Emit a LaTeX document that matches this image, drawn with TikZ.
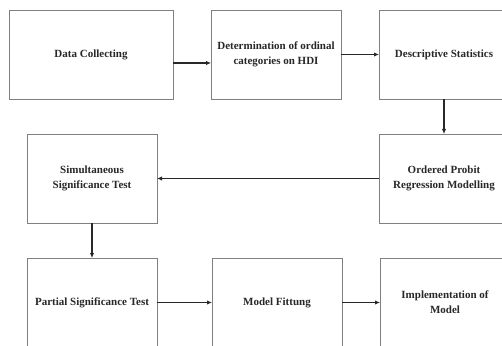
\documentclass[tikz,border=0pt]{standalone}
\usepackage{fontspec}
\setmainfont{Liberation Serif}
\usepackage{xcolor}
\usepackage{tikz}
\usetikzlibrary{arrows.meta, positioning}
\definecolor{edgegray}{RGB}{128,128,128}
\definecolor{inkgray}{RGB}{40,40,40}

\begin{document}
\begin{tikzpicture}[
    x=1pt, y=1pt,
    node distance=35pt and 38pt,
    box/.style={rectangle, draw=edgegray, line width=0.9pt, fill=white, minimum height=89pt, minimum width=130pt, align=center, text=inkgray, font=\fontsize{11}{15}\selectfont\bfseries, inner sep=0pt, outer sep=0pt},
    arr/.style={-{Latex[length=5pt,width=4.5pt]}, line width=1.3pt, inkgray}
]
\useasboundingbox (0,0) rectangle (502,345);
\clip (0,0) rectangle (502,345);

\node[box, minimum width=164pt] (collect) at (91,290.5) {Data Collecting};
\node[box, right=38pt of collect] (ordinal) {Determination of ordinal\\categories on HDI};
\node[box, right=38pt of ordinal] (descr) {Descriptive Statistics};

\node[box, below=of descr] (probit) {Ordered Probit\\Regression Modelling};
\node[box, left=222pt of probit] (simul) {Simultaneous\\Significance Test};

\node[box, below=of simul] (partial) {Partial Significance Test};
\node[box, right=55pt of partial] (fit) {Model Fittung};
\node[box, right=38pt of fit] (impl) {Implementation of\\Model};

\draw[arr] ([yshift=-8.5pt]collect.east) -- ([yshift=-8.5pt]ordinal.west);
\draw[arr] (ordinal) -- (descr);
\draw[arr] (descr) -- (probit);
\draw[arr] (probit) -- (simul);
\draw[arr] (simul) -- (partial);
\draw[arr] (partial) -- (fit);
\draw[arr] (fit) -- (impl);

\end{tikzpicture}
\end{document}
